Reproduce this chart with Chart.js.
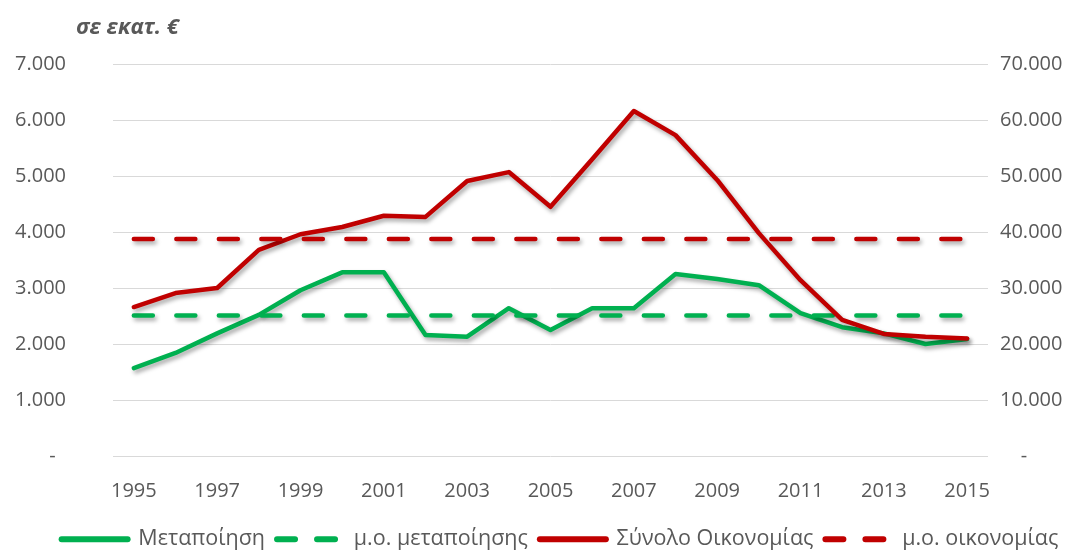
<!DOCTYPE html>
<html>
<head>
<meta charset="utf-8">
<script src="https://cdn.jsdelivr.net/npm/chart.js@4"></script>
<style>
  body { margin: 0; background: #fff; }
  #wrap { width: 1086px; height: 551px; }
</style>
</head>
<body>
<div id="wrap"><canvas id="mainChart" width="1086" height="551"></canvas></div>
<script>
// data
const years = ['1995', '1996', '1997', '1998', '1999', '2000', '2001', '2002', '2003', '2004', '2005',
    '2006', '2007', '2008', '2009', '2010', '2011', '2012', '2013', '2014', '2015'];
const manufacturing = [1570, 1840, 2190, 2520, 2960, 3280, 3280, 2160, 2130, 2640, 2250,
    2640, 2640, 3250, 3160, 3050, 2550, 2300, 2190, 2000, 2090];
const economy = [26600, 29100, 30000, 36800, 39600, 40900, 42900, 42700, 49100, 50700, 44500,
    53000, 61600, 57300, 49300, 39800, 31400, 24300, 21800, 21300, 21000];
const manufacturingAvg = 2510;
const economyAvg = 38750;
const leftTicks = [0, 1000, 2000, 3000, 4000, 5000, 6000, 7000];
const rightTicks = [0, 10000, 20000, 30000, 40000, 50000, 60000, 70000];

const GREEN = '#00B050';
const RED = '#C00000';
const TEXT = '#595959';
const FONT = "'Open Sans', sans-serif";

function fmt(v) {
    return String(v).replace(/\B(?=(\d{3})+(?!\d))/g, '.');
}

// soft drop shadow under every line, like the office chart
const shadowPlugin = {
    id: 'lineShadow',
    beforeDatasetDraw(chart) {
        const ctx = chart.ctx;
        ctx.save();
        ctx.shadowColor = 'rgba(0, 0, 0, 0.35)';
        ctx.shadowBlur = 4;
        ctx.shadowOffsetX = 2;
        ctx.shadowOffsetY = 3;
    },
    afterDatasetDraw(chart) {
        chart.ctx.restore();
    }
};

// legend in the original sits a bit right of centre
const legendShift = {
    id: 'legendShift',
    afterLayout(chart) {
        chart.legend.left += 17;
        chart.legend.right += 17;
    }
};

const unitLabel = {
    id: 'unitLabel',
    afterDraw(chart) {
        const ctx = chart.ctx;
        ctx.save();
        ctx.font = "italic bold 22px " + FONT;
        ctx.fillStyle = TEXT;
        ctx.textBaseline = 'middle';
        ctx.textAlign = 'left';
        ctx.fillText('σε εκατ. €', 76, 28);
        ctx.restore();
    }
};

const ctx = document.getElementById('mainChart').getContext('2d');
new Chart(ctx, {
    type: 'line',
    data: {
        labels: years,
        datasets: [{
            label: 'Μεταποίηση',
            data: manufacturing,
            borderColor: GREEN,
            backgroundColor: GREEN,
            borderWidth: 4.5,
            yAxisID: 'y',
            order: 4
        }, {
            label: 'μ.ο. μεταποίησης',
            data: years.map(() => manufacturingAvg),
            borderColor: GREEN,
            backgroundColor: GREEN,
            borderWidth: 4.5,
            borderDash: [19, 23.5],
            yAxisID: 'y',
            order: 3
        }, {
            label: 'Σύνολο Οικονομίας',
            data: economy,
            borderColor: RED,
            backgroundColor: RED,
            borderWidth: 4.5,
            yAxisID: 'y2',
            order: 2
        }, {
            label: 'μ.ο. οικονομίας',
            data: years.map(() => economyAvg),
            borderColor: RED,
            backgroundColor: RED,
            borderWidth: 4.5,
            borderDash: [19, 23.5],
            yAxisID: 'y2',
            order: 1
        }]
    },
    options: {
        responsive: false,
        animation: false,
        layout: {
            padding: { top: 64, bottom: -9, left: 0, right: 0 }
        },
        elements: {
            point: { radius: 0, hoverRadius: 0 },
            line: { tension: 0, borderCapStyle: 'round', borderJoinStyle: 'round', fill: false }
        },
        plugins: {
            tooltip: { enabled: false },
            legend: {
                position: 'bottom',
                labels: {
                    font: { family: FONT, size: 21.5 },
                    color: TEXT,
                    usePointStyle: true,
                    pointStyleWidth: 66,
                    padding: 12,
                    generateLabels(chart) {
                        return chart.data.datasets.map((ds, i) => ({
                            text: ds.label,
                            fillStyle: ds.borderColor,
                            strokeStyle: ds.borderColor,
                            lineWidth: 6,
                            lineCap: 'round',
                            lineDash: ds.borderDash ? [18, 22] : [],
                            pointStyle: 'line',
                            fontColor: TEXT,
                            hidden: false,
                            datasetIndex: i
                        }));
                    }
                }
            }
        },
        scales: {
            x: {
                offset: true,
                grid: { display: false },
                border: { display: false },
                ticks: {
                    autoSkip: false,
                    maxRotation: 0,
                    padding: 15,
                    color: TEXT,
                    font: { family: FONT, size: 20 },
                    callback: (v, i) => (i % 2 === 0 ? years[i] : '')
                },
                afterFit(scale) { scale.height = 60.5; }
            },
            y: {
                position: 'left',
                min: 0,
                max: 7000,
                afterBuildTicks(scale) { scale.ticks = leftTicks.map(v => ({ value: v })); },
                grid: { color: '#D9D9D9', lineWidth: 1, drawTicks: false },
                border: { display: false },
                ticks: {
                    padding: 47,
                    color: TEXT,
                    font: { family: FONT, size: 20 },
                    callback: v => (v === 0 ? '-  ' : fmt(v))
                },
                afterFit(scale) { scale.width = 113; }
            },
            y2: {
                position: 'right',
                min: 0,
                max: 70000,
                afterBuildTicks(scale) { scale.ticks = rightTicks.map(v => ({ value: v })); },
                grid: { drawOnChartArea: false, drawTicks: false },
                border: { display: false },
                ticks: {
                    padding: 12,
                    color: TEXT,
                    font: { family: FONT, size: 20 },
                    callback: v => (v === 0 ? '    -' : fmt(v))
                },
                afterFit(scale) { scale.width = 98; }
            }
        }
    },
    plugins: [shadowPlugin, legendShift, unitLabel]
});
</script>
</body>
</html>
